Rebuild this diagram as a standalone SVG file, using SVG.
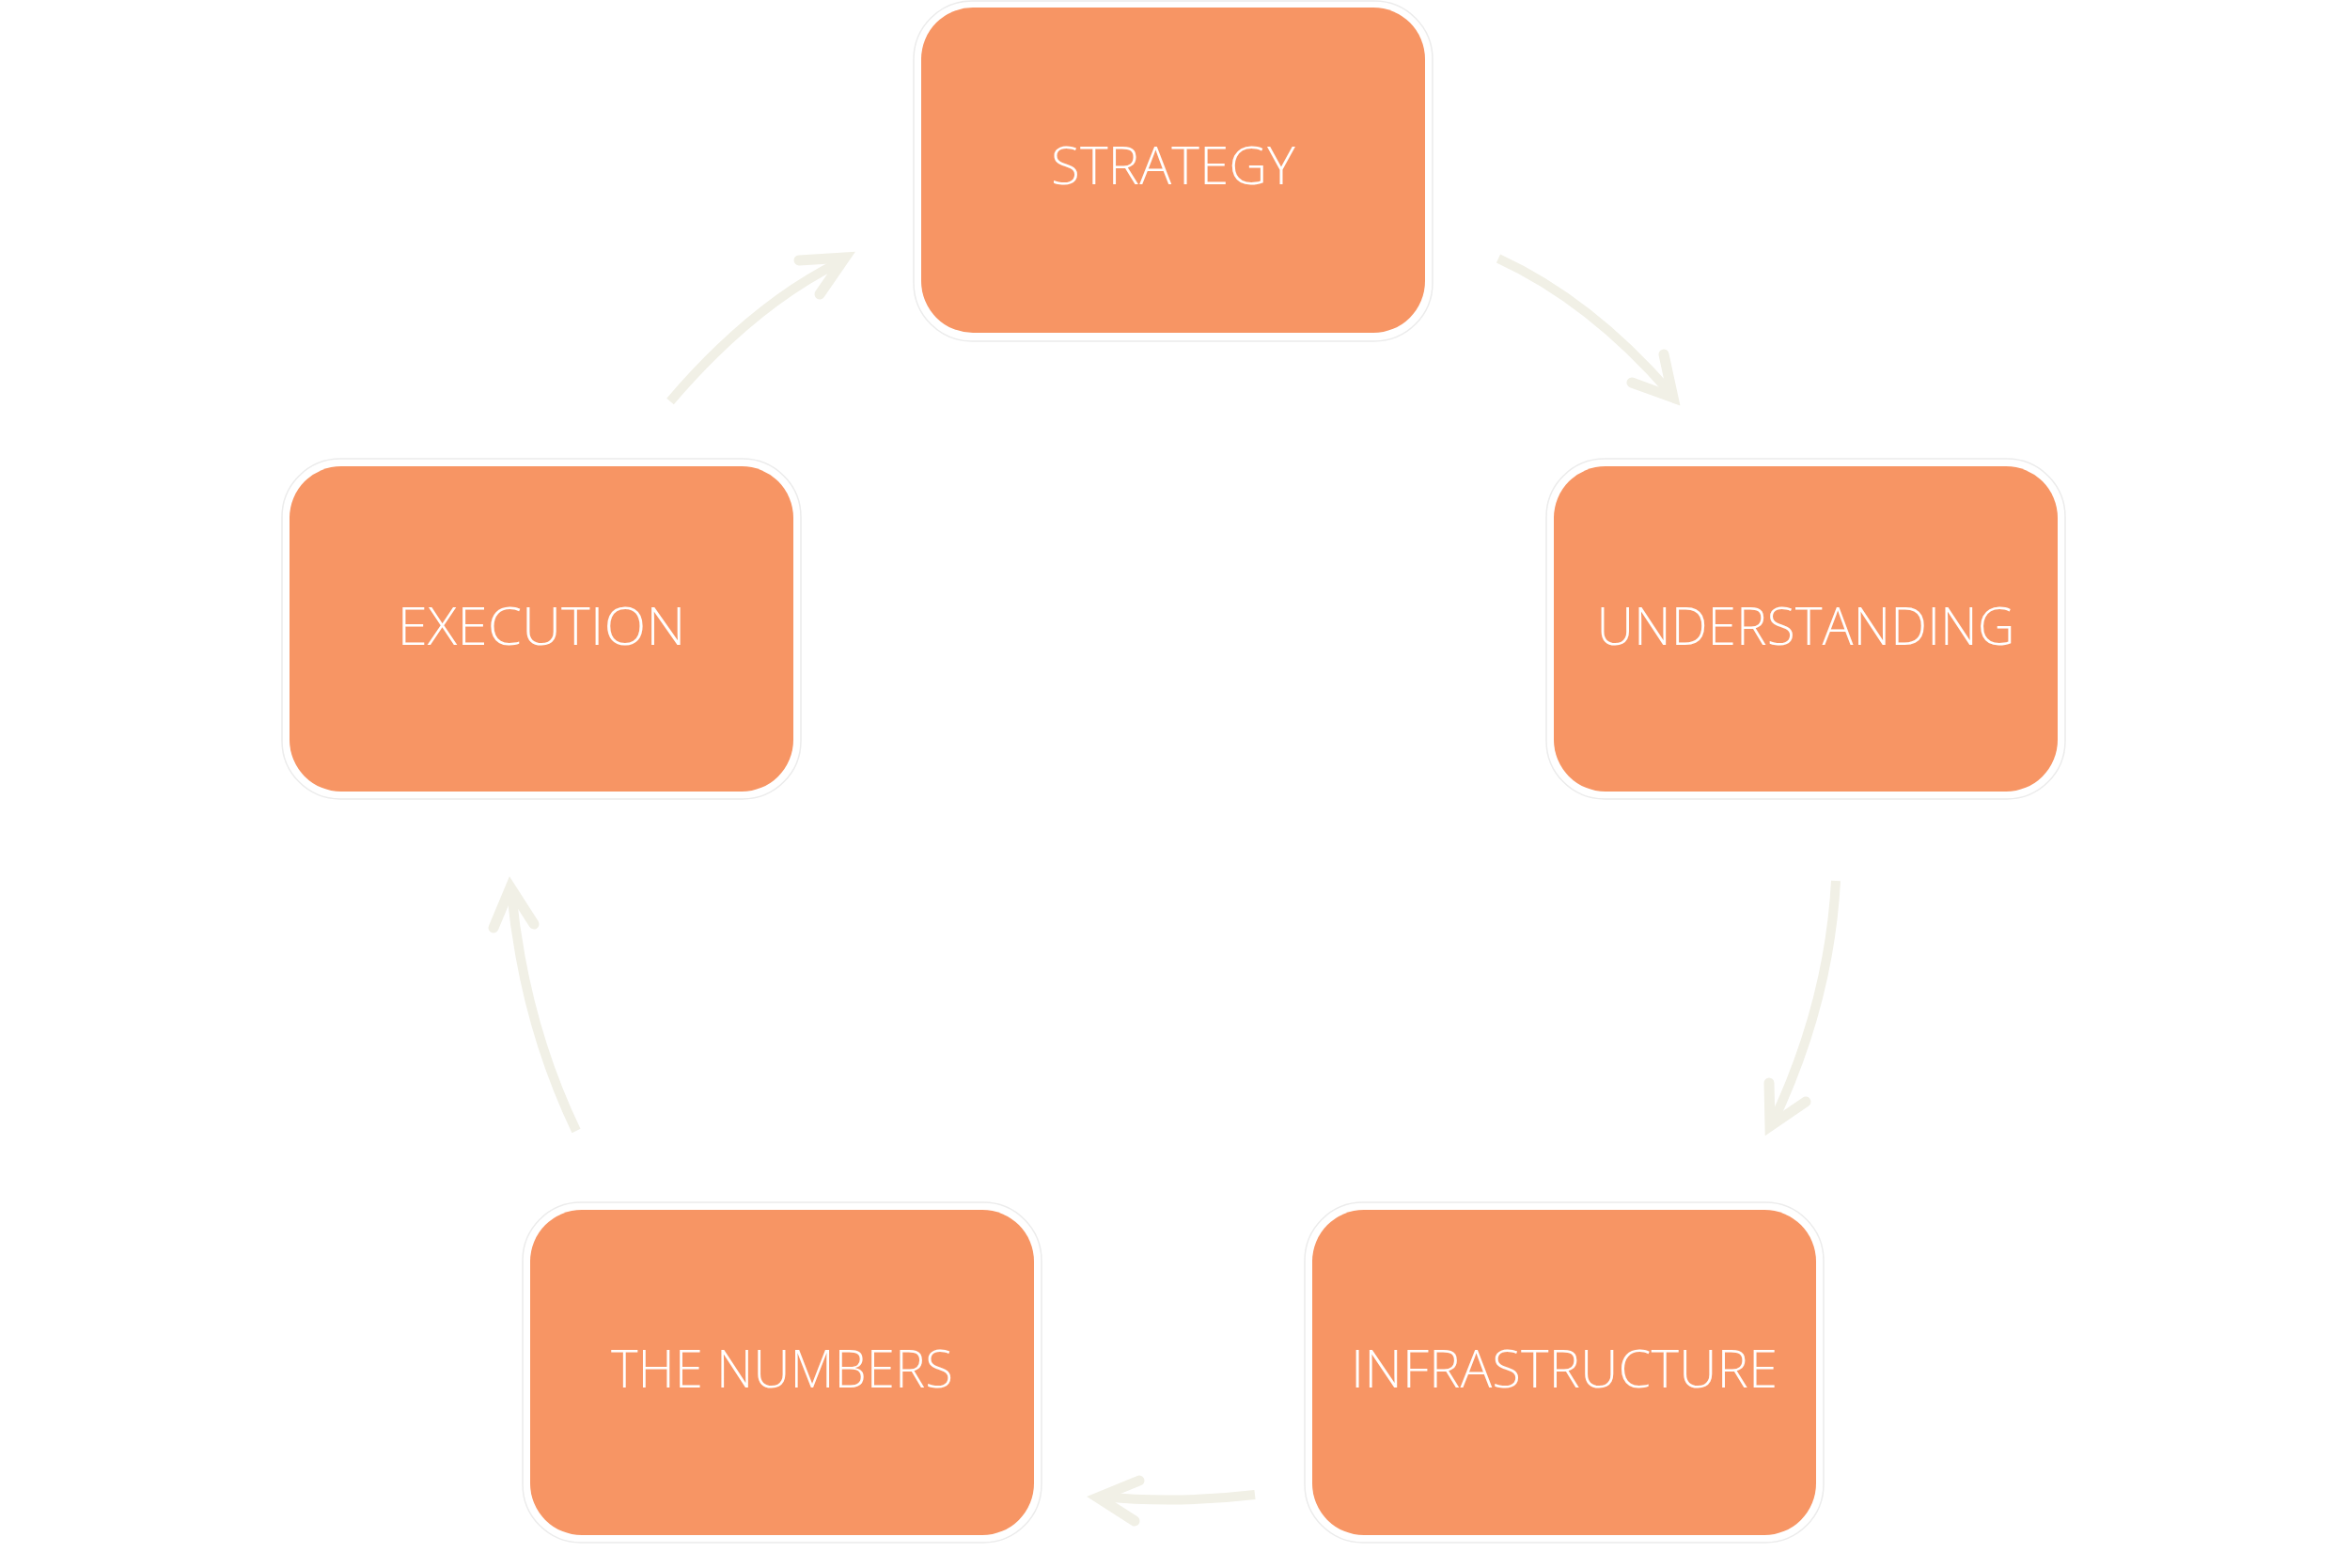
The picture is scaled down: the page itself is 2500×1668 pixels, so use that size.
<svg xmlns="http://www.w3.org/2000/svg" width="2500" height="1668" viewBox="0 0 2500 1668">
<defs>
<style>
.ring{fill:#ffffff;stroke:#ececec;stroke-width:1.5}
.box{fill:#f79564}
.lbl{font-family:"Open Sans",Lato,"Liberation Sans",sans-serif;font-weight:300;font-size:56px;fill:#ffffff;text-anchor:middle}
.shaft{fill:none;stroke:#f1f0e6;stroke-width:10;stroke-linecap:butt}
.head{fill:none;stroke:#f1f0e6;stroke-width:11;stroke-linecap:round;stroke-linejoin:miter;stroke-miterlimit:10}
</style>
</defs>
<rect width="2500" height="1668" fill="#ffffff"/>
<g id="connectors">
<g id="exec-to-strategy">
<path class="shaft" d="M713,427 C760,372 820,315 893,279"/>
<path class="head" d="M850,277 L899,274 L872,313"/>
</g>
<g id="strategy-to-understanding">
<path class="shaft" d="M1594,275 Q1692,320 1777,418"/>
<path class="head" d="M1770,377 L1780,423 L1736,407"/>
</g>
<g id="understanding-to-infrastructure">
<path class="shaft" d="M1953,937 Q1946,1068 1885,1196"/>
<path class="head" d="M1882,1152 L1883,1198 L1921,1172"/>
</g>
<g id="infrastructure-to-numbers">
<path class="shaft" d="M1335,1590 Q1250,1600 1172,1592"/>
<path class="head" d="M1212,1575 L1168,1593 L1207,1618"/>
</g>
<g id="numbers-to-execution">
<path class="shaft" d="M613,1203 Q557,1086 544,948"/>
<path class="head" d="M525,987 L543,944 L568,983"/>
</g>
</g>
<g id="node-strategy">
<rect class="ring" x="972" y="1" width="552" height="362" rx="62"/>
<rect class="box" x="980" y="8" width="536" height="346" rx="55"/>
<text class="lbl" x="1248" y="196" textLength="260" lengthAdjust="spacingAndGlyphs">STRATEGY</text>
</g>
<g id="node-understanding">
<rect class="ring" x="1645" y="488" width="552" height="362" rx="62"/>
<rect class="box" x="1653" y="496" width="536" height="346" rx="55"/>
<text class="lbl" x="1921" y="686" textLength="445" lengthAdjust="spacingAndGlyphs">UNDERSTANDING</text>
</g>
<g id="node-infrastructure">
<rect class="ring" x="1388" y="1279" width="552" height="362" rx="62"/>
<rect class="box" x="1396" y="1287" width="536" height="346" rx="55"/>
<text class="lbl" x="1664" y="1476" textLength="454" lengthAdjust="spacingAndGlyphs">INFRASTRUCTURE</text>
</g>
<g id="node-numbers">
<rect class="ring" x="556" y="1279" width="552" height="362" rx="62"/>
<rect class="box" x="564" y="1287" width="536" height="346" rx="55"/>
<text class="lbl" x="832" y="1476" textLength="364" lengthAdjust="spacingAndGlyphs">THE NUMBERS</text>
</g>
<g id="node-execution">
<rect class="ring" x="300" y="488" width="552" height="362" rx="62"/>
<rect class="box" x="308" y="496" width="536" height="346" rx="55"/>
<text class="lbl" x="576" y="686" textLength="307" lengthAdjust="spacingAndGlyphs">EXECUTION</text>
</g>
</svg>
